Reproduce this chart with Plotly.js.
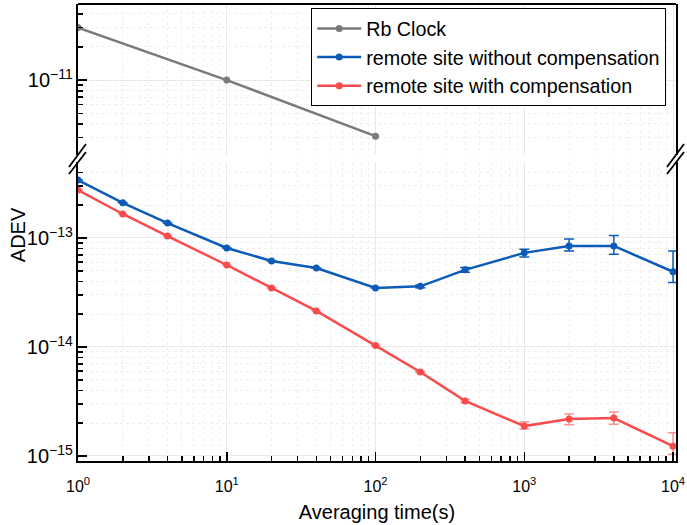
<!DOCTYPE html>
<html>
<head>
<meta charset="utf-8">
<script src="https://cdn.plot.ly/plotly-3.0.1.min.js"></script>
<style>
  html, body { margin: 0; padding: 0; background: #fff; }
  #chart { width: 687px; height: 525px; }
</style>
</head>
<body>
<div id="chart"></div>
<script>
// Averaging times (s)
const tauRb = [1, 10, 100];
const tau = [1, 2, 4, 10, 20, 40, 100, 200, 400, 1000, 2000, 4000, 10000];
const xTickVals = [1, 10, 100, 1000, 10000];
const xTickText = ["10<sup>0</sup>", "10<sup>1</sup>", "10<sup>2</sup>", "10<sup>3</sup>", "10<sup>4</sup>"];

// ADEV values
const rbClock = [3.0e-11, 1.0e-11, 3.1e-12];

const noComp = [3.4e-13, 2.1e-13, 1.37e-13, 8.1e-14, 6.15e-14, 5.3e-14, 3.48e-14,
  3.6e-14, 5.1e-14, 7.3e-14, 8.45e-14, 8.45e-14, 4.9e-14];
const noCompErrUp = [0, 0, 0, 0, 0, 0, 0, 0.1e-14, 0.25e-14, 0.6e-14, 1.35e-14, 2.1e-14, 2.7e-14];
const noCompErrDn = [0, 0, 0, 0, 0, 0, 0, 0.1e-14, 0.25e-14, 0.6e-14, 0.85e-14, 1.35e-14, 1.0e-14];

const withComp = [2.75e-13, 1.66e-13, 1.04e-13, 5.65e-14, 3.48e-14, 2.14e-14, 1.03e-14,
  5.9e-15, 3.2e-15, 1.88e-15, 2.18e-15, 2.23e-15, 1.23e-15];
const withCompErrUp = [0, 0, 0, 0, 0, 0, 0, 0.1e-15, 0.1e-15, 0.17e-15, 0.25e-15, 0.3e-15, 0.4e-15];
const withCompErrDn = [0, 0, 0, 0, 0, 0, 0, 0.1e-15, 0.1e-15, 0.11e-15, 0.25e-15, 0.27e-15, 0.19e-15];

const gray = "#7a7a7a";
const blue = "#0b5bb8";
const red = "#f84c4c";

const traces = [
  {
    x: tauRb, y: rbClock, xaxis: "x", yaxis: "y2",
    type: "scatter", mode: "lines+markers", name: "Rb Clock",
    line: { color: gray, width: 2.5 },
    marker: { color: gray, size: 7 },
  },
  {
    x: tau, y: noComp, xaxis: "x", yaxis: "y",
    type: "scatter", mode: "lines+markers", name: "remote site without compensation",
    line: { color: blue, width: 2.5 },
    marker: { color: blue, size: 7 },
    error_y: { type: "data", symmetric: false, array: noCompErrUp, arrayminus: noCompErrDn,
      color: blue, thickness: 1.5, width: 5 },
  },
  {
    x: tau, y: withComp, xaxis: "x", yaxis: "y",
    type: "scatter", mode: "lines+markers", name: "remote site with compensation",
    line: { color: red, width: 2.5 },
    marker: { color: red, size: 7 },
    error_y: { type: "data", symmetric: false, array: withCompErrUp, arrayminus: withCompErrDn,
      color: "rgba(248,76,76,0.6)", thickness: 1.5, width: 5 },
  },
];

const tickFont = { family: "Liberation Sans, Arial, sans-serif", size: 16, color: "#000" };
const minorY = { ticks: "inside", ticklen: 5, tickcolor: "#000", showgrid: true,
  gridcolor: "#efefef", griddash: "dot", gridwidth: 1 };

const yCommon = {
  type: "log", dtick: 1, exponentformat: "power",
  ticks: "inside", ticklen: 9, tickwidth: 1.5, tickcolor: "#000",
  showline: true, linecolor: "#000", linewidth: 2, mirror: true,
  showgrid: true, gridcolor: "#e9e9e9", gridwidth: 1,
  zeroline: false, tickfont: tickFont, minor: minorY,
};

// paper coordinates of the break marks
function slash(x0, y0, x1, y1) {
  return { type: "line", xref: "paper", yref: "paper", x0, y0, x1, y1,
    line: { color: "#000", width: 1.8 } };
}
const py = (y) => (461 - y) / 457;
const px = (x) => (x - 78) / 598;

const layout = {
  width: 687, height: 525,
  margin: { l: 78, r: 11, t: 4, b: 64 },
  paper_bgcolor: "#fff", plot_bgcolor: "#fff",
  font: { family: "Liberation Sans, Arial, sans-serif", color: "#000" },
  showlegend: true,
  legend: {
    x: 0.39, y: 0.991, xanchor: "left", yanchor: "top",
    bordercolor: "#000", borderwidth: 1, bgcolor: "#fff",
    font: { size: 19.7, color: "#000" }, tracegroupgap: 0, itemwidth: 44,
  },
  xaxis: {
    type: "log", range: [0, 4.02], anchor: "y",
    tickmode: "array", tickvals: xTickVals, ticktext: xTickText,
    ticklabeloverflow: "allow", ticklabelstandoff: 10,
    ticks: "inside", ticklen: 9, tickwidth: 1.5, tickcolor: "#000",
    showline: true, linecolor: "#000", linewidth: 2, mirror: false,
    showgrid: true, gridcolor: "#e9e9e9", zeroline: false,
    tickfont: tickFont,
    minor: { tickmode: "array",
      tickvals: [2, 3, 4, 5, 6, 7, 8, 9, 20, 30, 40, 50, 60, 70, 80, 90,
        200, 300, 400, 500, 600, 700, 800, 900, 2000, 3000, 4000, 5000, 6000, 7000, 8000, 9000],
      ticks: "inside", ticklen: 5, tickcolor: "#000", showgrid: true,
      gridcolor: "#efefef", griddash: "dot" },
    title: { text: "Averaging time(s)", font: { size: 20 }, standoff: 11 },
  },
  yaxis: Object.assign({}, yCommon, {
    domain: [0, py(162)], range: [-15.046, -12.303],
  }),
  yaxis2: Object.assign({}, yCommon, {
    domain: [py(155), 1], range: [-11.68, -10.309],
  }),
  annotations: [
    { text: "ADEV", xref: "paper", yref: "paper", x: -0.1, y: py(235),
      xanchor: "center", yanchor: "middle", textangle: -90, showarrow: false,
      font: { size: 20 } },
  ],
  shapes: [
    { type: "line", xref: "paper", yref: "paper", x0: 0, x1: 1, y0: 1, y1: 1,
      line: { color: "#000", width: 2 } },
    slash(px(69), py(167), px(86), py(144)),
    slash(px(69), py(174), px(86), py(152)),
    slash(px(667), py(167), px(684), py(144)),
    slash(px(667), py(174), px(684), py(152)),
  ],
};

Plotly.newPlot("chart", traces, layout, { displayModeBar: false, staticPlot: true });
</script>
</body>
</html>
